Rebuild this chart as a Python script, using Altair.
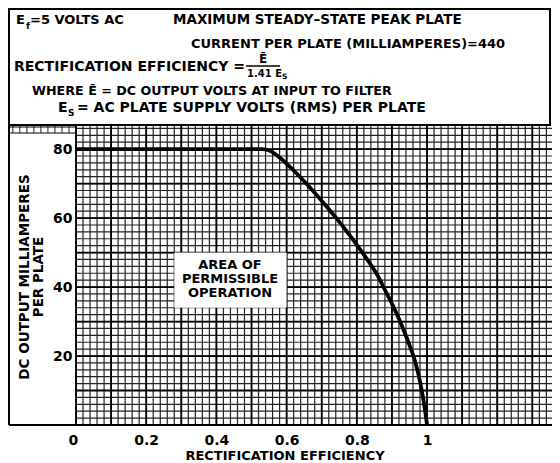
import altair as alt
import pandas as pd
import numpy as np

# ---- data ----
efficiency = [0.0, 0.53, 0.55, 0.58, 0.62, 0.66, 0.70, 0.74, 0.78, 0.82, 0.86, 0.88, 0.90,
              0.92, 0.94, 0.955, 0.965, 0.975, 0.985, 0.993, 1.0]
milliamperes = [80, 80, 79.6, 77.6, 73.8, 69.6, 65.0, 60.2, 55.0, 49.4, 43.2, 39.2, 35.2,
                30.8, 25.8, 21.8, 18.8, 14.9, 10.0, 5.2, 0.0]

x_ticks = [0, 0.2, 0.4, 0.6, 0.8, 1]
y_ticks = [20, 40, 60, 80]

area_label = ["AREA OF", "PERMISSIBLE", "OPERATION"]
area_box_x = [0.28, 0.60]
area_box_y = [34, 50]

header_line1 = "MAXIMUM STEADY\u2013STATE PEAK PLATE"
header_line2 = "CURRENT PER PLATE (MILLIAMPERES)=440"
header_line3 = "RECTIFICATION EFFICIENCY ="
header_line4 = "WHERE \u0112 = DC OUTPUT VOLTS AT INPUT TO FILTER"
header_line5 = "= AC PLATE SUPPLY VOLTS (RMS) PER PLATE"
x_title = "RECTIFICATION EFFICIENCY"
y_title = ["DC OUTPUT MILLIAMPERES", "PER PLATE"]

# ---- layout ----
W = 476
H = 299
X_MAX = 1.356
Y_MAX = 86.7
FONT = "DejaVu Sans"

xs = alt.Scale(domain=[0, X_MAX], nice=False, zero=False)
ys = alt.Scale(domain=[0, Y_MAX], nice=False, zero=False)

xaxis = alt.Axis(
    values=x_ticks, title=None, grid=False, ticks=False, tickSize=0, domain=False,
    labelFont=FONT, labelFontWeight="bold", labelFontSize=14, labelColor="black",
    labelPadding=8, labelExpr="datum.value + ''",
    labelOffset={"condition": {"test": "datum.value === 0", "value": -8}, "value": 0},
)
yaxis = alt.Axis(
    values=y_ticks, title=None, grid=False, ticks=False, tickSize=0, domain=False,
    labelFont=FONT, labelFontWeight="bold", labelFontSize=14, labelColor="black",
    labelPadding=4,
)

one = pd.DataFrame({"a": [0]})

minor_x = np.round(np.arange(0, X_MAX, 0.02), 3)
major_x = np.round(np.arange(0, X_MAX, 0.1), 3)
minor_y = np.round(np.arange(0, Y_MAX, 2), 3)
major_y = np.round(np.arange(0, Y_MAX, 10), 3)

def vrules(vals, color, width):
    return alt.Chart(pd.DataFrame({"x": vals})).mark_rule(color=color, strokeWidth=width).encode(
        x=alt.X("x:Q", scale=xs, axis=xaxis))

def hrules(vals, color, width):
    return alt.Chart(pd.DataFrame({"y": vals})).mark_rule(color=color, strokeWidth=width).encode(
        y=alt.Y("y:Q", scale=ys, axis=yaxis))

def txt(s, x, y, size=13, align="left", angle=0):
    return alt.Chart(one).mark_text(
        text=s, align=align, baseline="middle", fontSize=size, font=FONT,
        fontWeight="bold", angle=angle, color="black"
    ).encode(x=alt.value(x), y=alt.value(y))

# grid
grid = [
    vrules(minor_x, "#222222", 1.2),
    hrules(minor_y, "#222222", 1.2),
    vrules(major_x, "#000000", 1.8),
    hrules(major_y, "#000000", 1.8),
]

# little strip of grid above the left panel
strip_x = np.round(np.arange(-0.18, 0, 0.02), 3)
strip = [
    alt.Chart(pd.DataFrame({"x": strip_x, "y": [Y_MAX - 2] * len(strip_x), "y2": [Y_MAX] * len(strip_x)}))
    .mark_rule(color="#222222", strokeWidth=1)
    .encode(x=alt.X("x:Q", scale=xs, axis=xaxis), y=alt.Y("y:Q", scale=ys, axis=yaxis), y2="y2:Q"),
    alt.Chart(one).mark_rule(color="black", strokeWidth=1.2).encode(
        x=alt.value(-67), x2=alt.value(0), y=alt.value(7)),
    alt.Chart(one).mark_rule(color="black", strokeWidth=1.2).encode(
        x=alt.value(-67), x2=alt.value(0), y=alt.value(1)),
]

# frame
frame = [
    alt.Chart(one).mark_rect(fill="white", stroke="black", strokeWidth=2).encode(
        x=alt.value(-67), x2=alt.value(474), y=alt.value(-117), y2=alt.value(-1)),
    alt.Chart(one).mark_rule(color="black", strokeWidth=2).encode(
        x=alt.value(-67), y=alt.value(-117), y2=alt.value(H)),
    alt.Chart(one).mark_rule(color="black", strokeWidth=2).encode(
        x=alt.value(-67), x2=alt.value(0), y=alt.value(H)),
]

# white box under the label
box = alt.Chart(pd.DataFrame({"x": [area_box_x[0]], "x2": [area_box_x[1]],
                              "y": [area_box_y[0]], "y2": [area_box_y[1]]})).mark_rect(fill="white").encode(
    x=alt.X("x:Q", scale=xs, axis=xaxis), x2="x2:Q",
    y=alt.Y("y:Q", scale=ys, axis=yaxis), y2="y2:Q")

curve = alt.Chart(pd.DataFrame({"eff": efficiency, "ma": milliamperes})).mark_line(
    color="black", strokeWidth=3.8, interpolate="monotone"
).encode(
    x=alt.X("eff:Q", scale=xs, axis=xaxis),
    y=alt.Y("ma:Q", scale=ys, axis=yaxis),
    order="eff:Q",
)

texts = [
    # header
    txt("E", -60, -106),
    txt("f", -50, -100, size=9),
    txt("=5 VOLTS AC", -46, -106),
    txt(header_line1, 97, -106, size=13.5),
    txt(header_line2, 115, -82),
    txt(header_line3, -62, -59, size=14),
    txt("\u0112", 187, -67, size=12, align="center"),
    txt("1.41 E", 171, -52, size=10),
    txt("S", 206, -49, size=7.5),
    txt(header_line4, -44, -35, size=12.7),
    txt("E", -18, -18, size=14),
    txt("S", -8, -13, size=9),
    txt(header_line5, 1, -18, size=14),
    # axis titles
    txt(y_title[0], -51, 151, size=13.5, align="center", angle=270),
    txt(y_title[1], -37, 151, size=13.5, align="center", angle=270),
    txt(x_title, 209, 330, align="center"),
    # area label
    txt(area_label[0], 154, 139, align="center"),
    txt(area_label[1], 154, 153, align="center"),
    txt(area_label[2], 154, 167, align="center"),
]

frac_bar = alt.Chart(one).mark_rule(color="black", strokeWidth=1.5).encode(
    x=alt.value(170), x2=alt.value(204), y=alt.value(-60))

chart = alt.layer(
    *frame, *grid, *strip, box, curve, frac_bar, *texts
).properties(
    width=W, height=H,
    padding={"left": 68, "top": 118, "right": 0, "bottom": 38},
    autosize=alt.AutoSizeParams(type="none"),
).configure_view(stroke=None)

chart.save("out.html", embed_options={"renderer": "svg", "actions": False})
